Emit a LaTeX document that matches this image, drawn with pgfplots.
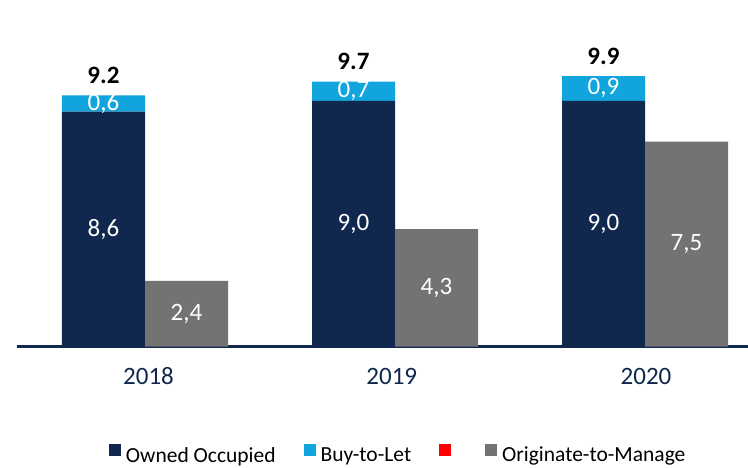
\documentclass[border=0pt]{standalone}
\usepackage{pgfplots}
\pgfplotsset{compat=1.18}
\usepackage{fontspec}
\setmainfont{Carlito}
\definecolor{navy}{RGB}{16,40,77}
\definecolor{btl}{RGB}{18,164,220}
\definecolor{gry}{RGB}{115,115,115}
\definecolor{redc}{RGB}{255,0,0}
\newcommand{\lbl}{\fontsize{25}{30}\selectfont}
\begin{document}
\begin{tikzpicture}[x=1pt,y=1pt]
\path[use as bounding box] (0,0) rectangle (748,467);
\pgfplotsset{base/.style={
  scale only axis, width=731pt, height=346.5pt,
  xmin=-0.512, xmax=2.412, ymin=0, ymax=12.69,
  at={(17pt,120.5pt)}, anchor=south west, clip=false,
  /pgf/number format/assume math mode=true}}
\begin{axis}[base, ybar stacked, bar width=83pt,
  axis y line=none, axis x line*=bottom,
  x axis line style={navy, line width=3pt, -},
  xtick={0.014,0.987,2.004}, xticklabels={2018,2019,2020},
  major tick length=0pt,
  xticklabel style={font=\lbl, text=navy, anchor=base, yshift=-38pt},
  ytick=\empty]
\addplot[fill=navy, draw=none] coordinates {(-0.166,8.6) (0.834,9.0) (1.834,9.0)};
\addplot[fill=btl, draw=none] coordinates {(-0.166,0.6) (0.834,0.7) (1.834,0.9)};
\end{axis}
\begin{axis}[base, ybar, bar width=83pt, hide axis,
  legend columns=-1,
  legend image code/.code={\fill[#1,draw=none] (0pt,-1pt) rectangle (12pt,11pt);},
  legend style={draw=none, fill=none, inner sep=0pt, outer sep=0pt,
    at={(axis description cs:0.1258,-0.3377)}, anchor=south west,
    font=\fontsize{21.5}{25}\selectfont,
    nodes={inner sep=0pt},
    /tikz/every odd column/.append style={column sep=5pt},
    /tikz/every even column/.append style={column sep=28pt}}]
\addlegendimage{fill=navy}
\addlegendentry{Owned Occupied}
\addlegendimage{fill=btl}
\addlegendentry{Buy-to-Let}
\addlegendimage{fill=redc}
\addlegendentry{\hspace{13pt}}
\addplot[fill=gry, draw=none] coordinates {(0.166,2.4) (1.166,4.3) (2.166,7.5)};
\addlegendentry{Originate-to-Manage}
% segment labels
\node[text=white, font=\lbl, anchor=center] at (axis cs:-0.166,4.3) {8,6};
\node[text=white, font=\lbl, anchor=center] at (axis cs:0.834,4.5) {9,0};
\node[text=white, font=\lbl, anchor=center] at (axis cs:1.834,4.5) {9,0};
\node[text=white, font=\lbl, anchor=center] at (axis cs:-0.166,8.9) {0,6};
\node[text=white, font=\lbl, anchor=center] at (axis cs:0.834,9.35) {0,7};
\node[text=white, font=\lbl, anchor=center] at (axis cs:1.834,9.45) {0,9};
\node[text=white, font=\lbl, anchor=center] at (axis cs:0.166,1.2) {2,4};
\node[text=white, font=\lbl, anchor=center] at (axis cs:1.166,2.15) {4,3};
\node[text=white, font=\lbl, anchor=center] at (axis cs:2.166,3.75) {7,5};
% totals
\node[font=\lbl\bfseries, anchor=base] at (axis cs:-0.166,9.2) [yshift=12pt] {9.2};
\node[font=\lbl\bfseries, anchor=base] at (axis cs:0.834,9.7) [yshift=12pt] {9.7};
\node[font=\lbl\bfseries, anchor=base] at (axis cs:1.834,9.9) [yshift=12pt] {9.9};
\end{axis}
\end{tikzpicture}
\end{document}
